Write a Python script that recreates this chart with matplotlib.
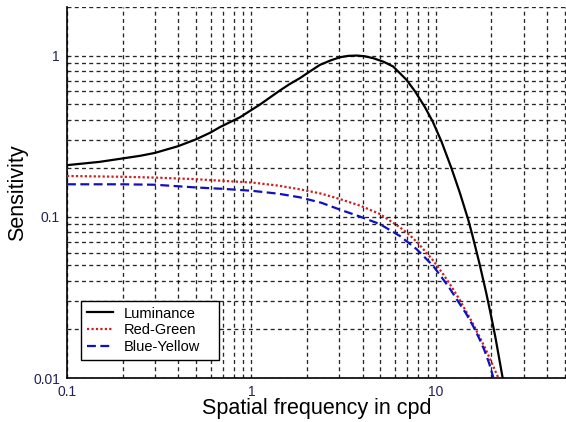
import numpy as np
import matplotlib
matplotlib.use("Agg")
import matplotlib.pyplot as plt
from matplotlib.ticker import LogLocator, FixedLocator, FixedFormatter, NullFormatter

# Data (spatial frequency in cpd, sensitivity)
lum_f = [0.1, 0.15, 0.2, 0.25, 0.3, 0.4, 0.5, 0.6, 0.675, 0.866, 1.11, 1.42, 1.6, 1.83, 2.05, 2.35, 2.7,
         3.03, 3.35, 3.72, 4.1, 4.57, 5.2, 5.86, 6.9, 7.7, 8.7, 9.6, 10.7, 12.1, 13.5, 15.0, 15.8,
         17.2, 18.7, 19.9, 21.0, 23.0]
lum_s = [0.209, 0.219, 0.230, 0.239, 0.249, 0.274, 0.302, 0.333, 0.36, 0.414, 0.496, 0.605, 0.662, 0.724,
         0.79, 0.875, 0.935, 0.977, 0.995, 1.0, 0.99, 0.963, 0.915, 0.855, 0.71, 0.60, 0.48, 0.39, 0.294,
         0.202, 0.140, 0.095, 0.076, 0.0515, 0.034, 0.0243, 0.0179, 0.01]

rg_f = [0.1, 0.2, 0.3, 0.5, 0.7, 1.01, 1.4, 1.83, 2.4, 3.0, 3.9, 4.97, 5.6, 6.38, 7.2, 8.0, 9.6,
        11.0, 12.2, 13.5, 15.8, 17.2, 18.7, 20.2, 21.8]
rg_s = [0.179, 0.177, 0.175, 0.171, 0.167, 0.163, 0.156, 0.148, 0.139, 0.129, 0.117, 0.104, 0.095,
        0.086, 0.077, 0.0686, 0.054, 0.0437, 0.0366, 0.0303, 0.0219, 0.0181, 0.0149, 0.0122, 0.01]

by_f = [0.1, 0.2, 0.3, 0.5, 0.7, 1.0, 1.4, 1.83, 2.4, 3.0, 3.9, 4.97, 5.6, 6.38, 7.1, 7.85, 9.6,
        10.7, 11.9, 13.2, 14.6, 15.9, 17.2, 18.3, 19.4, 20.5]
by_s = [0.159, 0.159, 0.158, 0.152, 0.149, 0.145, 0.139, 0.132, 0.122, 0.111, 0.100, 0.090, 0.083,
        0.076, 0.069, 0.063, 0.050, 0.0424, 0.0358, 0.0298, 0.025, 0.021, 0.0175, 0.0149, 0.0124, 0.01]

series_names = ["Luminance", "Red-Green", "Blue-Yellow"]
x_ticks = [0.1, 1, 10]
x_ticklabels = ["0.1", "1", "10"]
y_ticks = [0.01, 0.1, 1]
y_ticklabels = ["0.01", "0.1", "1"]

plt.rcParams['font.family'] = ['Liberation Sans', 'DejaVu Sans']

fig = plt.figure(figsize=(5.66, 4.22), dpi=100)
ax = fig.add_axes([67/566, 1-378/422, 1-67/566, (378-7)/422])

ax.plot(lum_f, lum_s, color='black', lw=1.6, ls='-', label=series_names[0], zorder=3)
ax.plot(rg_f, rg_s, color='#cc1f1f', lw=1.6, ls=(0, (1, 1)), label=series_names[1], zorder=3)
ax.plot(by_f, by_s, color='#1010c0', lw=1.6, ls=(0, (4, 2)), label=series_names[2], zorder=3)

ax.set_xscale('log'); ax.set_yscale('log')
ax.set_xlim(0.1, 50.7)
ax.set_ylim(0.01, 2)

ax.xaxis.set_major_locator(FixedLocator(x_ticks))
ax.xaxis.set_major_formatter(FixedFormatter(x_ticklabels))
ax.yaxis.set_major_locator(FixedLocator(y_ticks))
ax.yaxis.set_major_formatter(FixedFormatter(y_ticklabels))
ax.xaxis.set_minor_locator(LogLocator(base=10, subs=np.arange(2, 10)))
ax.yaxis.set_minor_locator(LogLocator(base=10, subs=np.arange(2, 10)))
ax.xaxis.set_minor_formatter(NullFormatter())
ax.yaxis.set_minor_formatter(NullFormatter())

ax.grid(True, which='both', color='black', ls=(0, (3, 2.5)), lw=0.95, alpha=0.85)
ax.tick_params(which='both', length=0)
ax.tick_params(axis='both', labelsize=10, labelcolor='#22225a')
ax.tick_params(axis='x', pad=5)
ax.tick_params(axis='y', pad=5)
for s in ['top', 'right']:
    ax.spines[s].set_visible(False)
for s in ['left', 'bottom']:
    ax.spines[s].set_linewidth(1.2)

ax.set_xlabel('Spatial frequency in cpd', fontsize=15.5, labelpad=-1)
ax.set_ylabel('Sensitivity', fontsize=15.5, labelpad=4)

leg = ax.legend(loc='lower left', bbox_to_anchor=(0.028, 0.048, (219-81)/499, 0.2),
                mode='expand', fontsize=10.5,
                frameon=True, fancybox=False, framealpha=1, edgecolor='black',
                handlelength=1.8, handletextpad=0.7, borderpad=0.4,
                labelspacing=0.2, borderaxespad=0)
leg.get_frame().set_linewidth(1.0)

fig.savefig('out.png', dpi=100)
